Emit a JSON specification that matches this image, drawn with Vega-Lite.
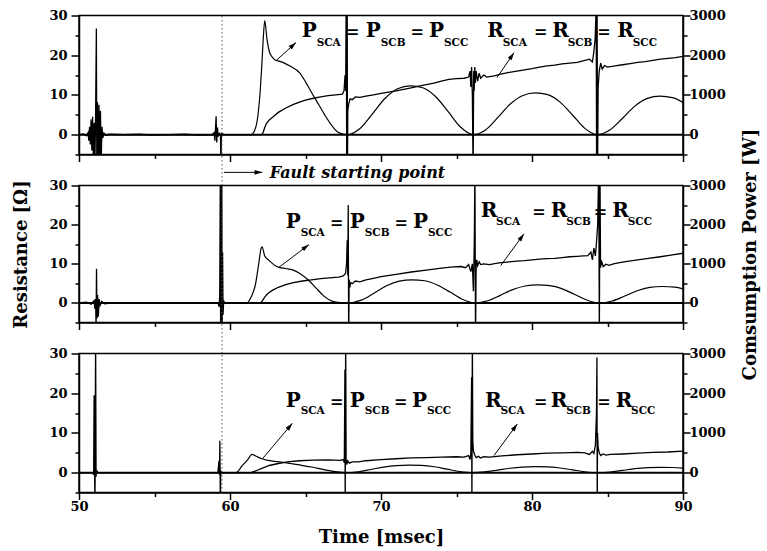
{
  "$schema": "https://vega.github.io/schema/vega-lite/v6.json",
  "background": "white",
  "padding": {"left": 12, "top": 8.5, "right": 6, "bottom": 6},
  "spacing": 31,
  "bounds": "flush",
  "config": {
    "view": {"stroke": "black", "strokeWidth": 1.5},
    "font": "DejaVu Serif",
    "axis": {
      "labelFont": "DejaVu Serif", "labelFontWeight": "bold", "labelFontSize": 13, "labelColor": "black",
      "titleFont": "DejaVu Serif", "titleFontWeight": "bold", "titleFontSize": 18, "titleColor": "black",
      "domainColor": "black", "domainWidth": 1.5, "tickColor": "black", "tickWidth": 1.5,
      "grid": false, "labelFlush": false, "labelOverlap": false
    }
  },
  "datasets": {
    "r1": [
      {"t":50,"v":0},{"t":50.3,"v":0.2},{"t":50.5,"v":-0.3},{"t":50.6,"v":0.5},{"t":50.65,"v":-1.5},{"t":50.7,"v":2},{"t":50.75,"v":-2.5},{"t":50.8,"v":3.8},{"t":50.85,"v":-4},{"t":50.9,"v":4.5},{"t":50.95,"v":-6},{"t":51.0,"v":3},{"t":51.05,"v":-8},{"t":51.1,"v":5},{"t":51.15,"v":26.7},{"t":51.18,"v":-8},{"t":51.22,"v":8.2},{"t":51.27,"v":-7},{"t":51.32,"v":7.5},{"t":51.37,"v":-6},{"t":51.42,"v":6},{"t":51.47,"v":-7},{"t":51.52,"v":2},{"t":51.58,"v":-0.8},{"t":51.65,"v":0.4},{"t":51.8,"v":-0.2},{"t":52,"v":0.1},{"t":53,"v":0},{"t":54,"v":0.1},{"t":55,"v":-0.1},{"t":56,"v":0},{"t":57,"v":0.1},{"t":58,"v":-0.1},{"t":58.8,"v":0},{"t":58.95,"v":0.5},{"t":59.0,"v":-1.5},{"t":59.04,"v":1.5},{"t":59.08,"v":4.6},{"t":59.12,"v":-2},{"t":59.17,"v":1.8},{"t":59.22,"v":-0.5},{"t":59.3,"v":0.3},{"t":59.37,"v":0},{"t":59.4,"v":-9},{"t":59.43,"v":0.3},{"t":59.6,"v":0},
      {"t":62.1,"v":0},{"t":62.2,"v":0.6},{"t":62.3,"v":1.8},{"t":62.4,"v":2.7},{"t":62.6,"v":3.7},{"t":62.8,"v":4.3},{"t":63.2,"v":5.6},{"t":63.7,"v":6.7},{"t":64.2,"v":7.6},{"t":64.6,"v":8.2},{"t":65.0,"v":8.7},{"t":65.45,"v":9.1},{"t":66,"v":9.5},{"t":66.5,"v":9.8},{"t":67,"v":10.0},{"t":67.45,"v":10.2},{"t":67.55,"v":11},{"t":67.62,"v":15},{"t":67.66,"v":11},{"t":67.7,"v":40},{"t":67.73,"v":-10},{"t":67.76,"v":40},{"t":67.78,"v":-10},{"t":67.8,"v":6},{"t":67.85,"v":7.5},{"t":67.95,"v":9.0},{"t":68.1,"v":8.8},{"t":68.3,"v":9.5},{"t":68.6,"v":9.4},{"t":69,"v":9.7},{"t":69.5,"v":10.0},{"t":70,"v":10.4},{"t":70.5,"v":10.7},{"t":71,"v":11.0},{"t":71.5,"v":11.4},{"t":72,"v":11.8},{"t":72.5,"v":12.2},{"t":73,"v":12.6},{"t":73.5,"v":13.0},{"t":74,"v":13.5},{"t":74.5,"v":13.9},{"t":75,"v":14.1},{"t":75.5,"v":14.2},{"t":75.8,"v":14.5},{"t":75.9,"v":16},{"t":75.95,"v":12},{"t":76.0,"v":17},{"t":76.05,"v":10},{"t":76.1,"v":-10},{"t":76.14,"v":16},{"t":76.17,"v":11},{"t":76.21,"v":17},{"t":76.25,"v":13},{"t":76.3,"v":16},{"t":76.4,"v":13.5},{"t":76.5,"v":15.5},{"t":76.6,"v":14.2},{"t":76.8,"v":15.0},{"t":77,"v":14.5},{"t":77.5,"v":14.8},{"t":78,"v":15.3},{"t":78.5,"v":15.7},{"t":79,"v":16.0},{"t":79.5,"v":16.3},{"t":80,"v":16.6},{"t":80.5,"v":17.0},{"t":81,"v":17.3},{"t":81.5,"v":17.5},{"t":82,"v":17.8},{"t":82.5,"v":18.0},{"t":83,"v":18.2},{"t":83.5,"v":18.7},{"t":83.8,"v":19.0},{"t":84.0,"v":18.3},{"t":84.1,"v":21},{"t":84.18,"v":24},{"t":84.25,"v":32},{"t":84.28,"v":-10},{"t":84.31,"v":35},{"t":84.34,"v":-10},{"t":84.38,"v":12},{"t":84.45,"v":16},{"t":84.55,"v":18},{"t":84.65,"v":16.5},{"t":84.8,"v":17.4},{"t":85,"v":17.0},{"t":85.5,"v":17.3},{"t":86,"v":17.6},{"t":86.5,"v":17.9},{"t":87,"v":18.2},{"t":87.5,"v":18.4},{"t":88,"v":18.7},{"t":88.5,"v":19.0},{"t":89,"v":19.2},{"t":89.5,"v":19.4},{"t":90,"v":19.7}
    ],
    "p1": [
      {"t":50,"v":0},{"t":61.4,"v":0},{"t":61.6,"v":80},{"t":61.8,"v":350},{"t":62.0,"v":1100},{"t":62.1,"v":1700},{"t":62.2,"v":2400},{"t":62.3,"v":2870},{"t":62.45,"v":2400},{"t":62.6,"v":2100},{"t":62.8,"v":1950},{"t":63.0,"v":1880},{"t":63.25,"v":1850},{"t":63.6,"v":1800},{"t":64.0,"v":1720},{"t":64.6,"v":1560},{"t":65.0,"v":1330},{"t":65.4,"v":1060},{"t":65.9,"v":740},{"t":66.3,"v":480},{"t":66.8,"v":200},{"t":67.2,"v":50},{"t":67.75,"v":0},{"t":68.59,"v":148},{"t":69.42,"v":517},{"t":70.26,"v":910},{"t":71.10,"v":1156},{"t":71.94,"v":1230},{"t":72.77,"v":1180},{"t":73.61,"v":960},{"t":74.45,"v":578},{"t":75.28,"v":185},{"t":76.12,"v":0},{"t":76.94,"v":126},{"t":77.76,"v":441},{"t":78.58,"v":777},{"t":79.40,"v":987},{"t":80.22,"v":1050},{"t":81.04,"v":1008},{"t":81.86,"v":819},{"t":82.68,"v":494},{"t":83.50,"v":158},{"t":84.32,"v":0},{"t":85.15,"v":116},{"t":85.98,"v":407},{"t":86.81,"v":718},{"t":87.64,"v":912},{"t":88.47,"v":970},{"t":89.30,"v":931},{"t":90.0,"v":810}
    ],
    "r2": [
      {"t":50,"v":0},{"t":50.5,"v":0.2},{"t":50.8,"v":-0.3},{"t":51.0,"v":0.6},{"t":51.05,"v":-1.5},{"t":51.1,"v":1},{"t":51.13,"v":-6},{"t":51.16,"v":8.7},{"t":51.19,"v":-4},{"t":51.23,"v":2},{"t":51.28,"v":-3.5},{"t":51.33,"v":1},{"t":51.4,"v":-0.6},{"t":51.5,"v":0.4},{"t":51.7,"v":-0.2},{"t":52.2,"v":0},{"t":55,"v":0.1},{"t":58,"v":0},{"t":59.2,"v":0},{"t":59.28,"v":-1},{"t":59.32,"v":2},{"t":59.36,"v":35},{"t":59.38,"v":-10},{"t":59.41,"v":35},{"t":59.43,"v":-10},{"t":59.46,"v":30},{"t":59.48,"v":-10},{"t":59.51,"v":13},{"t":59.54,"v":-3},{"t":59.58,"v":0.5},{"t":59.65,"v":0},
      {"t":61.95,"v":0},{"t":62.1,"v":0.3},{"t":62.3,"v":1.5},{"t":62.5,"v":2.4},{"t":62.8,"v":3.2},{"t":63.2,"v":4.0},{"t":63.7,"v":4.7},{"t":64.2,"v":5.2},{"t":64.8,"v":5.6},{"t":65.4,"v":5.9},{"t":66,"v":6.2},{"t":66.6,"v":6.4},{"t":67.2,"v":6.6},{"t":67.5,"v":6.9},{"t":67.65,"v":7.5},{"t":67.72,"v":10},{"t":67.76,"v":16},{"t":67.8,"v":7},{"t":67.83,"v":25},{"t":67.86,"v":-10},{"t":67.89,"v":6},{"t":67.93,"v":4},{"t":68.0,"v":5.2},{"t":68.1,"v":4.9},{"t":68.3,"v":5.6},{"t":68.6,"v":5.4},{"t":69,"v":5.9},{"t":69.5,"v":6.3},{"t":70,"v":6.7},{"t":71,"v":7.3},{"t":72,"v":7.9},{"t":73,"v":8.4},{"t":74,"v":8.9},{"t":74.8,"v":9.2},{"t":75.3,"v":9.3},{"t":75.6,"v":9.0},{"t":75.8,"v":9.8},{"t":75.95,"v":8},{"t":76.05,"v":10},{"t":76.12,"v":3},{"t":76.18,"v":16},{"t":76.22,"v":35},{"t":76.26,"v":-10},{"t":76.3,"v":9.5},{"t":76.34,"v":11},{"t":76.4,"v":9.5},{"t":76.5,"v":10.5},{"t":76.6,"v":9.8},{"t":76.8,"v":10.0},{"t":77.2,"v":9.8},{"t":77.6,"v":10.1},{"t":78,"v":10.3},{"t":78.5,"v":10.5},{"t":79,"v":10.7},{"t":79.5,"v":10.8},{"t":80,"v":11.0},{"t":80.5,"v":11.2},{"t":81,"v":11.3},{"t":81.5,"v":11.4},{"t":82,"v":11.6},{"t":82.5,"v":11.8},{"t":83,"v":11.9},{"t":83.4,"v":12.0},{"t":83.7,"v":12.1},{"t":83.9,"v":13},{"t":84.0,"v":11},{"t":84.1,"v":14},{"t":84.2,"v":12},{"t":84.28,"v":16},{"t":84.35,"v":20},{"t":84.42,"v":35},{"t":84.46,"v":-10},{"t":84.5,"v":35},{"t":84.54,"v":9},{"t":84.62,"v":10.5},{"t":84.72,"v":9.3},{"t":84.9,"v":9.9},{"t":85.1,"v":9.6},{"t":85.4,"v":10.0},{"t":85.8,"v":10.3},{"t":86.3,"v":10.6},{"t":87,"v":11.0},{"t":87.7,"v":11.4},{"t":88.5,"v":11.8},{"t":89.2,"v":12.2},{"t":90,"v":12.7}
    ],
    "p2": [
      {"t":50,"v":0},{"t":61.1,"v":0},{"t":61.4,"v":150},{"t":61.7,"v":500},{"t":61.9,"v":1000},{"t":62.05,"v":1380},{"t":62.12,"v":1430},{"t":62.3,"v":1200},{"t":62.6,"v":1080},{"t":63.0,"v":950},{"t":63.25,"v":910},{"t":63.7,"v":880},{"t":64.1,"v":850},{"t":64.6,"v":760},{"t":65.2,"v":580},{"t":65.7,"v":380},{"t":66.2,"v":180},{"t":66.8,"v":40},{"t":67.3,"v":8},{"t":67.85,"v":0},{"t":68.69,"v":71},{"t":69.53,"v":248},{"t":70.37,"v":437},{"t":71.21,"v":555},{"t":72.05,"v":590},{"t":72.89,"v":566},{"t":73.73,"v":460},{"t":74.57,"v":277},{"t":75.41,"v":89},{"t":76.25,"v":0},{"t":77.07,"v":55},{"t":77.90,"v":193},{"t":78.72,"v":340},{"t":79.54,"v":432},{"t":80.37,"v":460},{"t":81.19,"v":442},{"t":82.01,"v":359},{"t":82.83,"v":216},{"t":83.66,"v":69},{"t":84.48,"v":0},{"t":85.31,"v":50},{"t":86.14,"v":176},{"t":86.97,"v":311},{"t":87.80,"v":395},{"t":88.63,"v":420},{"t":89.46,"v":403},{"t":90.0,"v":360}
    ],
    "r3": [
      {"t":50,"v":0},{"t":50.9,"v":0},{"t":50.97,"v":-0.5},{"t":51.0,"v":19.5},{"t":51.03,"v":0},{"t":51.06,"v":-8},{"t":51.1,"v":35},{"t":51.13,"v":-1},{"t":51.17,"v":0.5},{"t":51.25,"v":0},{"t":55,"v":0},{"t":59.2,"v":0},{"t":59.27,"v":3},{"t":59.3,"v":-0.5},{"t":59.33,"v":8},{"t":59.36,"v":-8},{"t":59.39,"v":0.5},{"t":59.45,"v":0},
      {"t":61.4,"v":0},{"t":61.8,"v":0.6},{"t":62.2,"v":1.2},{"t":62.6,"v":1.8},{"t":63.2,"v":2.3},{"t":63.8,"v":2.7},{"t":64.6,"v":3.0},{"t":65.5,"v":3.15},{"t":66.5,"v":3.2},{"t":67.3,"v":3.1},{"t":67.5,"v":3.3},{"t":67.57,"v":2.5},{"t":67.61,"v":26},{"t":67.63,"v":-10},{"t":67.66,"v":35},{"t":67.69,"v":3.5},{"t":67.73,"v":2.0},{"t":67.8,"v":3.0},{"t":67.9,"v":2.4},{"t":68.1,"v":2.7},{"t":68.5,"v":2.7},{"t":69,"v":3.0},{"t":70,"v":3.3},{"t":71,"v":3.5},{"t":72,"v":3.7},{"t":73,"v":3.8},{"t":74,"v":3.9},{"t":75,"v":4.0},{"t":75.5,"v":3.9},{"t":75.8,"v":4.3},{"t":75.9,"v":3.3},{"t":75.95,"v":5},{"t":76.0,"v":24},{"t":76.02,"v":-10},{"t":76.05,"v":35},{"t":76.08,"v":8},{"t":76.12,"v":5.5},{"t":76.2,"v":4.5},{"t":76.3,"v":3.8},{"t":76.45,"v":4.1},{"t":76.6,"v":3.7},{"t":76.8,"v":4.0},{"t":77.2,"v":3.9},{"t":78,"v":4.2},{"t":79,"v":4.5},{"t":80,"v":4.7},{"t":81,"v":4.9},{"t":82,"v":5.0},{"t":83,"v":5.1},{"t":83.5,"v":5.0},{"t":83.8,"v":4.6},{"t":84.0,"v":5.4},{"t":84.1,"v":4.8},{"t":84.2,"v":7},{"t":84.27,"v":15},{"t":84.3,"v":29},{"t":84.32,"v":-10},{"t":84.34,"v":10},{"t":84.38,"v":6.5},{"t":84.45,"v":5},{"t":84.55,"v":4.3},{"t":84.7,"v":4.7},{"t":84.9,"v":4.4},{"t":85.2,"v":4.6},{"t":86,"v":4.7},{"t":87,"v":4.9},{"t":88,"v":5.1},{"t":89,"v":5.2},{"t":90,"v":5.4}
    ],
    "p3": [
      {"t":50,"v":0},{"t":60.4,"v":0},{"t":60.8,"v":170},{"t":61.2,"v":340},{"t":61.45,"v":460},{"t":61.7,"v":420},{"t":62.1,"v":350},{"t":62.5,"v":310},{"t":63.0,"v":285},{"t":63.5,"v":260},{"t":64.0,"v":230},{"t":64.5,"v":200},{"t":65.0,"v":165},{"t":65.5,"v":135},{"t":66.0,"v":95},{"t":66.5,"v":55},{"t":67.0,"v":25},{"t":67.66,"v":0},{"t":68.50,"v":23},{"t":69.34,"v":80},{"t":70.18,"v":141},{"t":71.02,"v":179},{"t":71.86,"v":190},{"t":72.69,"v":182},{"t":73.53,"v":148},{"t":74.37,"v":89},{"t":75.21,"v":29},{"t":76.05,"v":0},{"t":76.88,"v":18},{"t":77.71,"v":63},{"t":78.53,"v":111},{"t":79.36,"v":141},{"t":80.19,"v":150},{"t":81.02,"v":144},{"t":81.85,"v":117},{"t":82.67,"v":71},{"t":83.50,"v":23},{"t":84.33,"v":0},{"t":85.16,"v":16},{"t":85.99,"v":57},{"t":86.82,"v":100},{"t":87.65,"v":127},{"t":88.48,"v":135},{"t":89.31,"v":130},{"t":90.0,"v":112}
    ],
    "labels": [
      {"panel":1,"kind":"main","t":64.75,"v":24.5,"text":"P"},{"panel":1,"kind":"sub","t":65.74,"v":22.25,"text":"SCA"},{"panel":1,"kind":"eq","t":68.13,"v":24.5,"text":"="},{"panel":1,"kind":"main","t":68.99,"v":24.5,"text":"P"},{"panel":1,"kind":"sub","t":69.98,"v":22.25,"text":"SCB"},{"panel":1,"kind":"eq","t":72.40,"v":24.5,"text":"="},{"panel":1,"kind":"main","t":73.18,"v":24.5,"text":"P"},{"panel":1,"kind":"sub","t":74.17,"v":22.25,"text":"SCC"},
      {"panel":1,"kind":"main","t":77.04,"v":24.5,"text":"R"},{"panel":1,"kind":"sub","t":78.06,"v":22.25,"text":"SCA"},{"panel":1,"kind":"eq","t":80.57,"v":24.5,"text":"="},{"panel":1,"kind":"main","t":81.34,"v":24.5,"text":"R"},{"panel":1,"kind":"sub","t":82.36,"v":22.25,"text":"SCB"},{"panel":1,"kind":"eq","t":84.77,"v":24.5,"text":"="},{"panel":1,"kind":"main","t":85.65,"v":24.5,"text":"R"},{"panel":1,"kind":"sub","t":86.67,"v":22.25,"text":"SCC"},
      {"panel":2,"kind":"main","t":63.69,"v":19.1,"text":"P"},{"panel":2,"kind":"sub","t":64.68,"v":17.2,"text":"SCA"},{"panel":2,"kind":"eq","t":67.07,"v":19.1,"text":"="},{"panel":2,"kind":"main","t":67.93,"v":19.1,"text":"P"},{"panel":2,"kind":"sub","t":68.92,"v":17.2,"text":"SCB"},{"panel":2,"kind":"eq","t":71.34,"v":19.1,"text":"="},{"panel":2,"kind":"main","t":72.12,"v":19.1,"text":"P"},{"panel":2,"kind":"sub","t":73.11,"v":17.2,"text":"SCC"},
      {"panel":2,"kind":"main","t":76.60,"v":21.9,"text":"R"},{"panel":2,"kind":"sub","t":77.62,"v":19.8,"text":"SCA"},{"panel":2,"kind":"eq","t":80.46,"v":21.9,"text":"="},{"panel":2,"kind":"main","t":81.24,"v":21.9,"text":"R"},{"panel":2,"kind":"sub","t":82.26,"v":19.8,"text":"SCB"},{"panel":2,"kind":"eq","t":84.54,"v":21.9,"text":"="},{"panel":2,"kind":"main","t":85.32,"v":21.9,"text":"R"},{"panel":2,"kind":"sub","t":86.34,"v":19.8,"text":"SCC"},
      {"panel":3,"kind":"main","t":63.69,"v":16.6,"text":"P"},{"panel":3,"kind":"sub","t":64.68,"v":14.8,"text":"SCA"},{"panel":3,"kind":"eq","t":67.07,"v":16.6,"text":"="},{"panel":3,"kind":"main","t":67.93,"v":16.6,"text":"P"},{"panel":3,"kind":"sub","t":68.92,"v":14.8,"text":"SCB"},{"panel":3,"kind":"eq","t":71.3,"v":16.6,"text":"="},{"panel":3,"kind":"main","t":72.05,"v":16.6,"text":"P"},{"panel":3,"kind":"sub","t":73.04,"v":14.8,"text":"SCC"},
      {"panel":3,"kind":"main","t":76.89,"v":16.6,"text":"R"},{"panel":3,"kind":"sub","t":77.91,"v":14.8,"text":"SCA"},{"panel":3,"kind":"eq","t":80.57,"v":16.6,"text":"="},{"panel":3,"kind":"main","t":81.24,"v":16.6,"text":"R"},{"panel":3,"kind":"sub","t":82.26,"v":14.8,"text":"SCB"},{"panel":3,"kind":"eq","t":84.77,"v":16.6,"text":"="},{"panel":3,"kind":"main","t":85.54,"v":16.6,"text":"R"},{"panel":3,"kind":"sub","t":86.56,"v":14.8,"text":"SCC"}
    ],
    "shafts": [
      {"panel":1,"id":"p","t":63.05,"v":18.64},{"panel":1,"id":"p","t":64.37,"v":23.17},
      {"panel":1,"id":"r","t":77.68,"v":14.36},{"panel":1,"id":"r","t":78.81,"v":20.65},
      {"panel":1,"id":"f","t":59.6,"v":-9.5},{"panel":1,"id":"f","t":62.14,"v":-9.5},
      {"panel":2,"id":"p","t":63.25,"v":9.12},{"panel":2,"id":"p","t":65.23,"v":14.9},
      {"panel":2,"id":"r","t":77.93,"v":9.56},{"panel":2,"id":"r","t":79.47,"v":17.65},
      {"panel":3,"id":"p","t":62.14,"v":3.45},{"panel":3,"id":"p","t":64.13,"v":12.42},
      {"panel":3,"id":"r","t":77.48,"v":4.28},{"panel":3,"id":"r","t":79.03,"v":12.27}
    ],
    "heads": [
      {"panel":1,"t":64.37,"v":23.17,"angle":48},{"panel":1,"t":78.81,"v":20.65,"angle":34},{"panel":1,"t":62.14,"v":-9.5,"angle":90},
      {"panel":2,"t":65.23,"v":14.9,"angle":53},{"panel":2,"t":79.47,"v":17.65,"angle":36},
      {"panel":3,"t":64.13,"v":12.42,"angle":40},{"panel":3,"t":79.03,"v":12.27,"angle":36}
    ],
    "notes": [
      {"panel":1,"t":62.63,"v":-11.0,"text":"Fault starting point"}
    ]
  },
  "vconcat": [
    {
      "width": 604, "height": 139,
      "layer": [
        {
          "layer": [
            {"data": {"name": "r1"}, "mark": {"type": "line", "color": "black", "strokeWidth": 1.3, "clip": true},
             "encoding": {
               "x": {"field": "t", "type": "quantitative", "scale": {"domain": [50, 90], "nice": false, "zero": false},
                     "axis": {"values": [50,55,60,65,70,75,80,85,90], "labels": false, "title": null,
                              "tickSize": {"condition": {"test": "datum.value % 10 == 0", "value": 7}, "value": 4}}},
               "y": {"field": "v", "type": "quantitative", "scale": {"domain": [-5, 30], "nice": false, "zero": false},
                     "axis": {"orient": "left", "values": [-5,0,5,10,15,20,25,30], "format": "d", "title": null, "labelPadding": 4,
                              "labelExpr": "datum.value >= 0 && datum.value % 10 == 0 ? datum.label : ''",
                              "tickSize": {"condition": {"test": "datum.value % 10 == 0", "value": 8}, "value": 4}}}
             }},
            {"data": {"values": [{}]}, "mark": {"type": "rule", "color": "black", "strokeWidth": 2}, "encoding": {"y": {"datum": 0, "axis": null}}},
            {"data": {"values": [{}]}, "mark": {"type": "rule", "color": "#555555", "strokeWidth": 1, "strokeDash": [1.5, 2.5], "clip": false},
             "encoding": {"x": {"datum": 59.47}, "y": {"datum": -12.8, "axis": null}, "y2": {"datum": 30}}},
            {"data": {"name": "shafts"}, "transform": [{"filter": "datum.panel == 1"}],
             "mark": {"type": "line", "color": "black", "strokeWidth": 1, "clip": false},
             "encoding": {"x": {"field": "t", "type": "quantitative"}, "y": {"field": "v", "type": "quantitative", "axis": null}, "detail": {"field": "id"}}},
            {"data": {"name": "heads"}, "transform": [{"filter": "datum.panel == 1"}],
             "mark": {"type": "point", "shape": "M0,0L0.6,2L-0.6,2Z", "filled": true, "color": "black", "opacity": 1, "size": 60, "clip": false},
             "encoding": {"x": {"field": "t", "type": "quantitative"}, "y": {"field": "v", "type": "quantitative", "axis": null}, "angle": {"field": "angle", "type": "quantitative", "scale": null}}},
            {"data": {"name": "labels"}, "transform": [{"filter": "datum.panel == 1 && datum.kind == 'main'"}],
             "mark": {"type": "text", "font": "DejaVu Serif", "fontWeight": "bold", "fontSize": 20, "align": "left", "baseline": "alphabetic", "color": "black"},
             "encoding": {"x": {"field": "t", "type": "quantitative"}, "y": {"field": "v", "type": "quantitative", "axis": null}, "text": {"field": "text"}}},
            {"data": {"name": "labels"}, "transform": [{"filter": "datum.panel == 1 && datum.kind == 'sub'"}],
             "mark": {"type": "text", "font": "DejaVu Serif", "fontWeight": "bold", "fontSize": 10.5, "align": "left", "baseline": "alphabetic", "color": "black"},
             "encoding": {"x": {"field": "t", "type": "quantitative"}, "y": {"field": "v", "type": "quantitative", "axis": null}, "text": {"field": "text"}}},
            {"data": {"name": "labels"}, "transform": [{"filter": "datum.panel == 1 && datum.kind == 'eq'"}],
             "mark": {"type": "text", "font": "DejaVu Serif", "fontWeight": "bold", "fontSize": 16, "align": "center", "baseline": "alphabetic", "color": "black"},
             "encoding": {"x": {"field": "t", "type": "quantitative"}, "y": {"field": "v", "type": "quantitative", "axis": null}, "text": {"field": "text"}}},
            {"data": {"name": "notes"}, "transform": [{"filter": "datum.panel == 1"}],
             "mark": {"type": "text", "font": "DejaVu Serif", "fontWeight": "bold", "fontStyle": "italic", "fontSize": 16, "align": "left", "baseline": "alphabetic", "color": "black", "clip": false},
             "encoding": {"x": {"field": "t", "type": "quantitative"}, "y": {"field": "v", "type": "quantitative", "axis": null}, "text": {"field": "text"}}}
          ],
          "resolve": {"axis": {"y": "independent"}}
        },
        {"data": {"name": "p1"}, "mark": {"type": "line", "color": "black", "strokeWidth": 1.2, "clip": true, "interpolate": "monotone"},
         "encoding": {
           "x": {"field": "t", "type": "quantitative", "scale": {"domain": [50, 90], "nice": false, "zero": false}},
           "y": {"field": "v", "type": "quantitative", "scale": {"domain": [-500, 3000], "nice": false, "zero": false},
                 "axis": {"orient": "right", "values": [-500,0,500,1000,1500,2000,2500,3000], "format": "d", "title": null, "labelPadding": -1,
                          "labelExpr": "datum.value >= 0 && datum.value % 1000 == 0 ? datum.label : ''",
                          "tickSize": {"condition": {"test": "datum.value % 1000 == 0", "value": 7}, "value": 4}}}
         }}
      ],
      "resolve": {"scale": {"y": "independent"}, "axis": {"y": "independent"}}
    },
    {
      "width": 604, "height": 137,
      "layer": [
        {
          "layer": [
            {"data": {"name": "r2"}, "mark": {"type": "line", "color": "black", "strokeWidth": 1.3, "clip": true},
             "encoding": {
               "x": {"field": "t", "type": "quantitative", "scale": {"domain": [50, 90], "nice": false, "zero": false},
                     "axis": {"values": [50,55,60,65,70,75,80,85,90], "labels": false, "title": null,
                              "tickSize": {"condition": {"test": "datum.value % 10 == 0", "value": 7}, "value": 4}}},
               "y": {"field": "v", "type": "quantitative", "scale": {"domain": [-5, 30], "nice": false, "zero": false},
                     "axis": {"orient": "left", "values": [-5,0,5,10,15,20,25,30], "format": "d", "title": "Resistance [Ω]", "titlePadding": 18, "labelPadding": 4,
                              "labelExpr": "datum.value >= 0 && datum.value % 10 == 0 ? datum.label : ''",
                              "tickSize": {"condition": {"test": "datum.value % 10 == 0", "value": 8}, "value": 4}}}
             }},
            {"data": {"values": [{}]}, "mark": {"type": "rule", "color": "black", "strokeWidth": 2}, "encoding": {"y": {"datum": 0, "axis": null}}},
            {"data": {"values": [{}]}, "mark": {"type": "rule", "color": "#555555", "strokeWidth": 1, "strokeDash": [1.5, 2.5], "clip": false},
             "encoding": {"x": {"datum": 59.47}, "y": {"datum": -12.9, "axis": null}, "y2": {"datum": 30}}},
            {"data": {"name": "shafts"}, "transform": [{"filter": "datum.panel == 2"}],
             "mark": {"type": "line", "color": "black", "strokeWidth": 1, "clip": false},
             "encoding": {"x": {"field": "t", "type": "quantitative"}, "y": {"field": "v", "type": "quantitative", "axis": null}, "detail": {"field": "id"}}},
            {"data": {"name": "heads"}, "transform": [{"filter": "datum.panel == 2"}],
             "mark": {"type": "point", "shape": "M0,0L0.6,2L-0.6,2Z", "filled": true, "color": "black", "opacity": 1, "size": 60, "clip": false},
             "encoding": {"x": {"field": "t", "type": "quantitative"}, "y": {"field": "v", "type": "quantitative", "axis": null}, "angle": {"field": "angle", "type": "quantitative", "scale": null}}},
            {"data": {"name": "labels"}, "transform": [{"filter": "datum.panel == 2 && datum.kind == 'main'"}],
             "mark": {"type": "text", "font": "DejaVu Serif", "fontWeight": "bold", "fontSize": 20, "align": "left", "baseline": "alphabetic", "color": "black"},
             "encoding": {"x": {"field": "t", "type": "quantitative"}, "y": {"field": "v", "type": "quantitative", "axis": null}, "text": {"field": "text"}}},
            {"data": {"name": "labels"}, "transform": [{"filter": "datum.panel == 2 && datum.kind == 'sub'"}],
             "mark": {"type": "text", "font": "DejaVu Serif", "fontWeight": "bold", "fontSize": 10.5, "align": "left", "baseline": "alphabetic", "color": "black"},
             "encoding": {"x": {"field": "t", "type": "quantitative"}, "y": {"field": "v", "type": "quantitative", "axis": null}, "text": {"field": "text"}}},
            {"data": {"name": "labels"}, "transform": [{"filter": "datum.panel == 2 && datum.kind == 'eq'"}],
             "mark": {"type": "text", "font": "DejaVu Serif", "fontWeight": "bold", "fontSize": 16, "align": "center", "baseline": "alphabetic", "color": "black"},
             "encoding": {"x": {"field": "t", "type": "quantitative"}, "y": {"field": "v", "type": "quantitative", "axis": null}, "text": {"field": "text"}}}
          ],
          "resolve": {"axis": {"y": "independent"}}
        },
        {"data": {"name": "p2"}, "mark": {"type": "line", "color": "black", "strokeWidth": 1.2, "clip": true, "interpolate": "monotone"},
         "encoding": {
           "x": {"field": "t", "type": "quantitative", "scale": {"domain": [50, 90], "nice": false, "zero": false}},
           "y": {"field": "v", "type": "quantitative", "scale": {"domain": [-500, 3000], "nice": false, "zero": false},
                 "axis": {"orient": "right", "values": [-500,0,500,1000,1500,2000,2500,3000], "format": "d", "labelPadding": -1,
                          "title": "Comsumption Power [W]", "titleAngle": -90, "titleBaseline": "top", "titlePadding": 16,
                          "labelExpr": "datum.value >= 0 && datum.value % 1000 == 0 ? datum.label : ''",
                          "tickSize": {"condition": {"test": "datum.value % 1000 == 0", "value": 7}, "value": 4}}}
         }}
      ],
      "resolve": {"scale": {"y": "independent"}, "axis": {"y": "independent"}}
    },
    {
      "width": 604, "height": 139,
      "layer": [
        {
          "layer": [
            {"data": {"name": "r3"}, "mark": {"type": "line", "color": "black", "strokeWidth": 1.3, "clip": true},
             "encoding": {
               "x": {"field": "t", "type": "quantitative", "scale": {"domain": [50, 90], "nice": false, "zero": false},
                     "axis": {"values": [50,55,60,65,70,75,80,85,90], "format": "d", "title": "Time [msec]", "titlePadding": 15, "labelPadding": 1,
                              "labelExpr": "datum.value % 10 == 0 ? datum.label : ''",
                              "tickSize": {"condition": {"test": "datum.value % 10 == 0", "value": 7}, "value": 4}}},
               "y": {"field": "v", "type": "quantitative", "scale": {"domain": [-5, 30], "nice": false, "zero": false},
                     "axis": {"orient": "left", "values": [-5,0,5,10,15,20,25,30], "format": "d", "title": null, "labelPadding": 4,
                              "labelExpr": "datum.value >= 0 && datum.value % 10 == 0 ? datum.label : ''",
                              "tickSize": {"condition": {"test": "datum.value % 10 == 0", "value": 8}, "value": 4}}}
             }},
            {"data": {"values": [{}]}, "mark": {"type": "rule", "color": "black", "strokeWidth": 2}, "encoding": {"y": {"datum": 0, "axis": null}}},
            {"data": {"values": [{}]}, "mark": {"type": "rule", "color": "#555555", "strokeWidth": 1, "strokeDash": [1.5, 2.5], "clip": false},
             "encoding": {"x": {"datum": 59.47}, "y": {"datum": -5, "axis": null}, "y2": {"datum": 30}}},
            {"data": {"name": "shafts"}, "transform": [{"filter": "datum.panel == 3"}],
             "mark": {"type": "line", "color": "black", "strokeWidth": 1, "clip": false},
             "encoding": {"x": {"field": "t", "type": "quantitative"}, "y": {"field": "v", "type": "quantitative", "axis": null}, "detail": {"field": "id"}}},
            {"data": {"name": "heads"}, "transform": [{"filter": "datum.panel == 3"}],
             "mark": {"type": "point", "shape": "M0,0L0.6,2L-0.6,2Z", "filled": true, "color": "black", "opacity": 1, "size": 60, "clip": false},
             "encoding": {"x": {"field": "t", "type": "quantitative"}, "y": {"field": "v", "type": "quantitative", "axis": null}, "angle": {"field": "angle", "type": "quantitative", "scale": null}}},
            {"data": {"name": "labels"}, "transform": [{"filter": "datum.panel == 3 && datum.kind == 'main'"}],
             "mark": {"type": "text", "font": "DejaVu Serif", "fontWeight": "bold", "fontSize": 20, "align": "left", "baseline": "alphabetic", "color": "black"},
             "encoding": {"x": {"field": "t", "type": "quantitative"}, "y": {"field": "v", "type": "quantitative", "axis": null}, "text": {"field": "text"}}},
            {"data": {"name": "labels"}, "transform": [{"filter": "datum.panel == 3 && datum.kind == 'sub'"}],
             "mark": {"type": "text", "font": "DejaVu Serif", "fontWeight": "bold", "fontSize": 10.5, "align": "left", "baseline": "alphabetic", "color": "black"},
             "encoding": {"x": {"field": "t", "type": "quantitative"}, "y": {"field": "v", "type": "quantitative", "axis": null}, "text": {"field": "text"}}},
            {"data": {"name": "labels"}, "transform": [{"filter": "datum.panel == 3 && datum.kind == 'eq'"}],
             "mark": {"type": "text", "font": "DejaVu Serif", "fontWeight": "bold", "fontSize": 16, "align": "center", "baseline": "alphabetic", "color": "black"},
             "encoding": {"x": {"field": "t", "type": "quantitative"}, "y": {"field": "v", "type": "quantitative", "axis": null}, "text": {"field": "text"}}}
          ],
          "resolve": {"axis": {"y": "independent"}}
        },
        {"data": {"name": "p3"}, "mark": {"type": "line", "color": "black", "strokeWidth": 1.2, "clip": true, "interpolate": "monotone"},
         "encoding": {
           "x": {"field": "t", "type": "quantitative", "scale": {"domain": [50, 90], "nice": false, "zero": false}},
           "y": {"field": "v", "type": "quantitative", "scale": {"domain": [-500, 3000], "nice": false, "zero": false},
                 "axis": {"orient": "right", "values": [-500,0,500,1000,1500,2000,2500,3000], "format": "d", "title": null, "labelPadding": -1,
                          "labelExpr": "datum.value >= 0 && datum.value % 1000 == 0 ? datum.label : ''",
                          "tickSize": {"condition": {"test": "datum.value % 1000 == 0", "value": 7}, "value": 4}}}
         }}
      ],
      "resolve": {"scale": {"y": "independent"}, "axis": {"y": "independent"}}
    }
  ]
}
